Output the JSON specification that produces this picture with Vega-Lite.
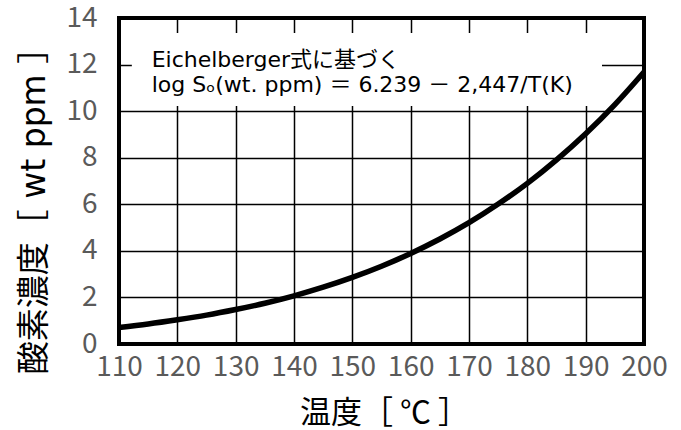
{
  "$schema": "https://vega.github.io/schema/vega-lite/v6.json",
  "width": 525,
  "height": 326,
  "autosize": {"type": "none"},
  "padding": {"left": 119, "top": 18, "right": 37, "bottom": 86},
  "background": "white",
  "config": {
    "view": {"stroke": "black", "strokeWidth": 4},
    "font": "Noto Sans CJK JP"
  },
  "data": {
    "values": [
      {"temp": 110, "oxygen": 0.71},
      {"temp": 115, "oxygen": 0.86},
      {"temp": 120, "oxygen": 1.04},
      {"temp": 125, "oxygen": 1.24},
      {"temp": 130, "oxygen": 1.48},
      {"temp": 135, "oxygen": 1.75},
      {"temp": 140, "oxygen": 2.07},
      {"temp": 145, "oxygen": 2.44},
      {"temp": 150, "oxygen": 2.86},
      {"temp": 155, "oxygen": 3.34},
      {"temp": 160, "oxygen": 3.89},
      {"temp": 165, "oxygen": 4.51},
      {"temp": 170, "oxygen": 5.21},
      {"temp": 175, "oxygen": 6.01},
      {"temp": 180, "oxygen": 6.9},
      {"temp": 185, "oxygen": 7.91},
      {"temp": 190, "oxygen": 9.03},
      {"temp": 195, "oxygen": 10.28},
      {"temp": 200, "oxygen": 11.68}
    ]
  },
  "layer": [
    {
      "data": {"values": [{}]},
      "mark": {"type": "rect", "fill": "white"},
      "encoding": {
        "x": {"datum": 112.2, "type": "quantitative", "scale": {"domain": [110, 200], "nice": false, "zero": false}},
        "x2": {"datum": 192.8},
        "y": {"datum": 13.36, "type": "quantitative", "scale": {"domain": [0, 14], "nice": false, "zero": false}},
        "y2": {"datum": 10.22}
      }
    },
    {
      "mark": {"type": "line", "color": "black", "strokeWidth": 5.5, "interpolate": "monotone"},
      "encoding": {
        "x": {
          "field": "temp",
          "type": "quantitative",
          "scale": {"domain": [110, 200], "nice": false, "zero": false},
          "axis": {
            "values": [110, 120, 130, 140, 150, 160, 170, 180, 190, 200],
            "grid": true,
            "gridColor": "black",
            "gridWidth": 1.5,
            "gridOpacity": 1,
            "domain": false,
            "ticks": false,
            "labelFlush": false,
            "labelOverlap": false,
            "labelFontSize": 28,
            "labelColor": "#5a5a5a",
            "labelPadding": 9,
            "title": "温度［ ℃ ］",
            "titleFontSize": 31,
            "titleFontWeight": "normal",
            "titleColor": "black",
            "titleBaseline": "alphabetic",
            "titleX": 265,
            "titleY": 78
          }
        },
        "y": {
          "field": "oxygen",
          "type": "quantitative",
          "scale": {"domain": [0, 14], "nice": false, "zero": false},
          "axis": {
            "values": [0, 2, 4, 6, 8, 10, 12, 14],
            "grid": true,
            "gridColor": "black",
            "gridWidth": 1.5,
            "gridOpacity": 1,
            "domain": false,
            "ticks": false,
            "labelFlush": false,
            "labelOverlap": false,
            "labelFontSize": 28,
            "labelColor": "#5a5a5a",
            "labelPadding": 22,
            "title": "酸素濃度［ wt ppm ］",
            "titleFont": "DejaVu Sans, Noto Sans CJK JP",
            "titleFontSize": 33,
            "titleFontWeight": "normal",
            "titleColor": "black",
            "titleBaseline": "alphabetic",
            "titleAngle": -90,
            "titleX": -75,
            "titleY": 184
          }
        }
      }
    },
    {
      "data": {"values": [{}]},
      "mark": {"type": "text", "align": "left", "baseline": "alphabetic", "font": "DejaVu Sans, Noto Sans CJK JP", "fontSize": 22, "color": "black"},
      "encoding": {
        "x": {"datum": 115.6, "type": "quantitative", "scale": {"domain": [110, 200], "nice": false, "zero": false}},
        "y": {"datum": 11.9, "type": "quantitative", "scale": {"domain": [0, 14], "nice": false, "zero": false}},
        "text": {"value": "Eichelberger式に基づく"}
      }
    },
    {
      "data": {"values": [{}]},
      "mark": {"type": "text", "align": "left", "baseline": "alphabetic", "font": "DejaVu Sans, Noto Sans CJK JP", "fontSize": 22, "color": "black"},
      "encoding": {
        "x": {"datum": 115.6, "type": "quantitative", "scale": {"domain": [110, 200], "nice": false, "zero": false}},
        "y": {"datum": 10.83, "type": "quantitative", "scale": {"domain": [0, 14], "nice": false, "zero": false}},
        "text": {"value": "log Sₒ(wt. ppm)\u00a0＝\u00a06.239\u00a0－\u00a02,447/T(K)"}
      }
    }
  ]
}
